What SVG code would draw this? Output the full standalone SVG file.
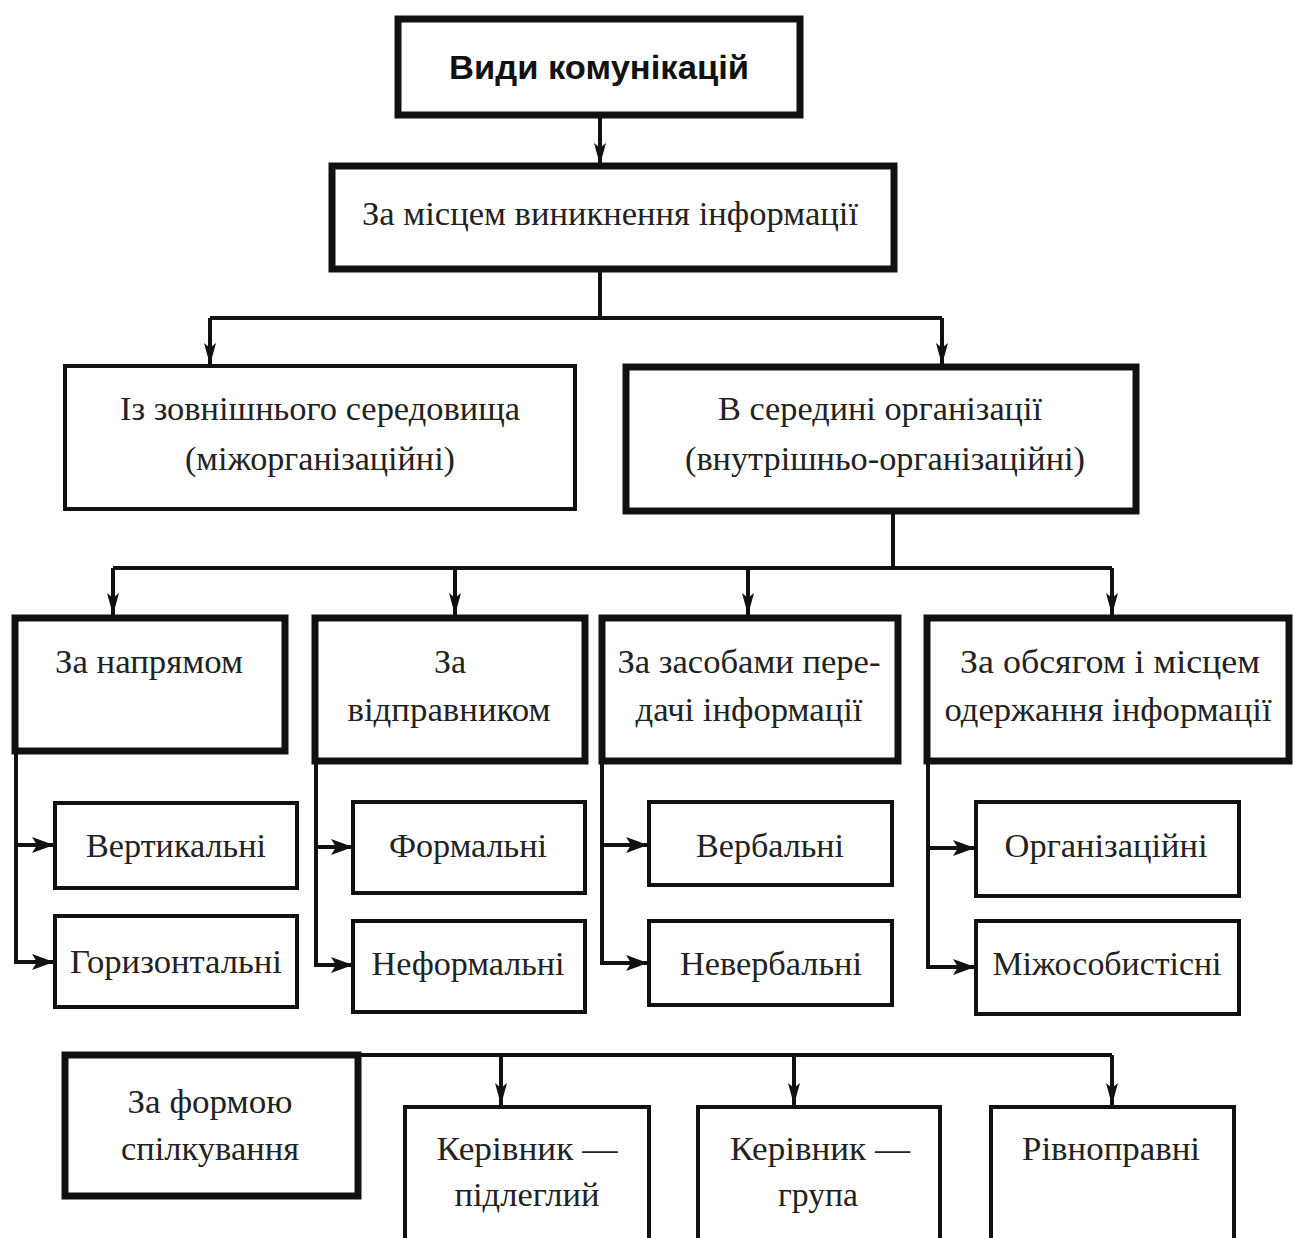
<svg xmlns="http://www.w3.org/2000/svg" width="1294" height="1238" viewBox="0 0 1294 1238">
<style>
.thick{fill:#fff;stroke:#111;stroke-width:7}
.thin{fill:#fff;stroke:#111;stroke-width:4}
.t{font-family:"Liberation Serif","DejaVu Serif",serif;font-size:34px;fill:#222;text-anchor:middle}
.h{font-family:"Liberation Sans","DejaVu Sans",sans-serif;font-size:34px;font-weight:bold;fill:#111;text-anchor:middle}
.c{fill:none;stroke:#111;stroke-width:4}
</style>
<defs>
<marker id="a" markerUnits="userSpaceOnUse" markerWidth="22" markerHeight="14" refX="22" refY="7" orient="auto" viewBox="0 0 22 14">
<path d="M0,1 L22,7 L0,13 L5,7 Z" fill="#111"/>
</marker>
<marker id="b" markerUnits="userSpaceOnUse" markerWidth="22" markerHeight="18" refX="22" refY="9" orient="auto" viewBox="0 0 22 18">
<path d="M0,1 L22,9 L0,17 L5,9 Z" fill="#111"/>
</marker>
</defs>
<rect width="1294" height="1238" fill="#fff"/>
<g id="connectors">
<path class="c" d="M600,116 V165" marker-end="url(#a)"/>
<path class="c" d="M600,270 V318 M210,318 H942"/>
<path class="c" d="M210,318 V365" marker-end="url(#a)"/>
<path class="c" d="M942,318 V365" marker-end="url(#a)"/>
<path class="c" d="M893,512 V568 M113,568 H1112"/>
<path class="c" d="M113,568 V615" marker-end="url(#a)"/>
<path class="c" d="M455,568 V615" marker-end="url(#a)"/>
<path class="c" d="M748,568 V615" marker-end="url(#a)"/>
<path class="c" d="M1112,568 V615" marker-end="url(#a)"/>
<path class="c" d="M16,752 V962 H54" marker-end="url(#b)"/>
<path class="c" d="M16,845 H54" marker-end="url(#b)"/>
<path class="c" d="M316,762 V965 H353" marker-end="url(#b)"/>
<path class="c" d="M316,847 H353" marker-end="url(#b)"/>
<path class="c" d="M602,762 V963 H648" marker-end="url(#b)"/>
<path class="c" d="M602,845 H648" marker-end="url(#b)"/>
<path class="c" d="M928,762 V967 H975" marker-end="url(#b)"/>
<path class="c" d="M928,848 H975" marker-end="url(#b)"/>
<path class="c" d="M359,1055 H1112"/>
<path class="c" d="M501,1055 V1105" marker-end="url(#a)"/>
<path class="c" d="M794,1055 V1105" marker-end="url(#a)"/>
<path class="c" d="M1112,1055 V1105" marker-end="url(#a)"/>
</g>
<g id="n-root"><rect class="thick" x="398" y="19" width="402" height="96"/><text class="h" x="599" y="79" textLength="300" lengthAdjust="spacingAndGlyphs">Види комунікацій</text></g>
<g id="n-place"><rect class="thick" x="332" y="166" width="562" height="103"/><text class="t" x="610" y="225" textLength="496" lengthAdjust="spacingAndGlyphs">За місцем виникнення інформації</text></g>
<g id="n-ext"><rect class="thin" x="65" y="366" width="510" height="143"/><text class="t" x="320" y="420" textLength="400" lengthAdjust="spacingAndGlyphs">Із зовнішнього середовища</text><text class="t" x="320" y="470" textLength="270" lengthAdjust="spacingAndGlyphs">(міжорганізаційні)</text></g>
<g id="n-int"><rect class="thick" x="626" y="367" width="510" height="144"/><text class="t" x="880" y="420" textLength="324" lengthAdjust="spacingAndGlyphs">В середині організації</text><text class="t" x="885" y="470" textLength="400" lengthAdjust="spacingAndGlyphs">(внутрішньо-організаційні)</text></g>
<g id="n-dir"><rect class="thick" x="15" y="618" width="270" height="133"/><text class="t" x="149" y="673" textLength="188" lengthAdjust="spacingAndGlyphs">За напрямом</text></g>
<g id="n-sender"><rect class="thick" x="315" y="618" width="270" height="143"/><text class="t" x="450" y="673">За</text><text class="t" x="449" y="721" textLength="203" lengthAdjust="spacingAndGlyphs">відправником</text></g>
<g id="n-means"><rect class="thick" x="602" y="618" width="296" height="143"/><text class="t" x="749" y="673" textLength="263" lengthAdjust="spacingAndGlyphs">За засобами пере-</text><text class="t" x="749" y="721" textLength="227" lengthAdjust="spacingAndGlyphs">дачі інформації</text></g>
<g id="n-volume"><rect class="thick" x="927" y="618" width="362" height="143"/><text class="t" x="1110" y="673" textLength="300" lengthAdjust="spacingAndGlyphs">За обсягом  і місцем</text><text class="t" x="1108" y="721" textLength="327" lengthAdjust="spacingAndGlyphs">одержання інформації</text></g>
<g id="n-vert"><rect class="thin" x="55" y="803" width="242" height="85"/><text class="t" x="176" y="857" textLength="180" lengthAdjust="spacingAndGlyphs">Вертикальні</text></g>
<g id="n-horiz"><rect class="thin" x="55" y="916" width="242" height="91"/><text class="t" x="176" y="973" textLength="212" lengthAdjust="spacingAndGlyphs">Горизонтальні</text></g>
<g id="n-formal"><rect class="thin" x="353" y="802" width="232" height="91"/><text class="t" x="468" y="857" textLength="158" lengthAdjust="spacingAndGlyphs">Формальні</text></g>
<g id="n-informal"><rect class="thin" x="353" y="921" width="232" height="91"/><text class="t" x="468" y="975" textLength="193" lengthAdjust="spacingAndGlyphs">Неформальні</text></g>
<g id="n-verbal"><rect class="thin" x="649" y="802" width="243" height="83"/><text class="t" x="770" y="857" textLength="148" lengthAdjust="spacingAndGlyphs">Вербальні</text></g>
<g id="n-nonverbal"><rect class="thin" x="649" y="921" width="243" height="84"/><text class="t" x="771" y="975" textLength="182" lengthAdjust="spacingAndGlyphs">Невербальні</text></g>
<g id="n-org"><rect class="thin" x="976" y="802" width="263" height="94"/><text class="t" x="1106" y="857" textLength="203" lengthAdjust="spacingAndGlyphs">Організаційні</text></g>
<g id="n-interpers"><rect class="thin" x="976" y="921" width="263" height="93"/><text class="t" x="1107" y="975" textLength="229" lengthAdjust="spacingAndGlyphs">Міжособистісні</text></g>
<g id="n-form"><rect class="thick" x="65" y="1055" width="293" height="141"/><text class="t" x="210" y="1113" textLength="165" lengthAdjust="spacingAndGlyphs">За формою</text><text class="t" x="210" y="1160" textLength="178" lengthAdjust="spacingAndGlyphs">спілкування</text></g>
<g id="n-boss-sub"><rect class="thin" x="405" y="1107" width="244" height="140"/><text class="t" x="527" y="1160" textLength="181" lengthAdjust="spacingAndGlyphs">Керівник —</text><text class="t" x="527" y="1206" textLength="145" lengthAdjust="spacingAndGlyphs">підлеглий</text></g>
<g id="n-boss-group"><rect class="thin" x="698" y="1107" width="242" height="140"/><text class="t" x="820" y="1160" textLength="180" lengthAdjust="spacingAndGlyphs">Керівник —</text><text class="t" x="818" y="1206" textLength="80" lengthAdjust="spacingAndGlyphs">група</text></g>
<g id="n-equal"><rect class="thin" x="991" y="1107" width="243" height="140"/><text class="t" x="1111" y="1160" textLength="178" lengthAdjust="spacingAndGlyphs">Рівноправні</text></g>
</svg>
